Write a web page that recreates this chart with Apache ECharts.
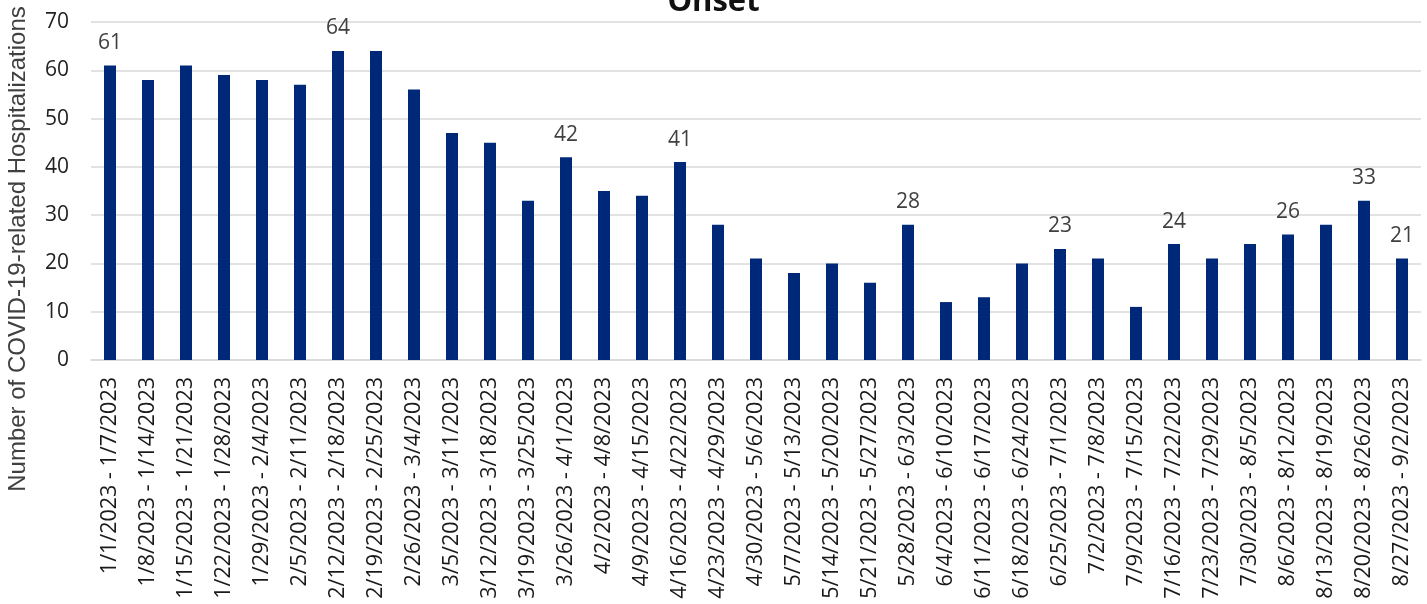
<!DOCTYPE html>
<html>
<head>
<meta charset="utf-8">
<script src="https://cdn.jsdelivr.net/npm/echarts@6/dist/echarts.min.js"></script>
<style>
  html, body { margin: 0; padding: 0; background: #fff; }
  #chart { width: 1427px; height: 604px; }
</style>
</head>
<body>
<div id="chart"></div>
<script>
// 周起止日期
var weeks = [
  '1/1/2023 - 1/7/2023', '1/8/2023 - 1/14/2023', '1/15/2023 - 1/21/2023', '1/22/2023 - 1/28/2023',
  '1/29/2023 - 2/4/2023', '2/5/2023 - 2/11/2023', '2/12/2023 - 2/18/2023', '2/19/2023 - 2/25/2023',
  '2/26/2023 - 3/4/2023', '3/5/2023 - 3/11/2023', '3/12/2023 - 3/18/2023', '3/19/2023 - 3/25/2023',
  '3/26/2023 - 4/1/2023', '4/2/2023 - 4/8/2023', '4/9/2023 - 4/15/2023', '4/16/2023 - 4/22/2023',
  '4/23/2023 - 4/29/2023', '4/30/2023 - 5/6/2023', '5/7/2023 - 5/13/2023', '5/14/2023 - 5/20/2023',
  '5/21/2023 - 5/27/2023', '5/28/2023 - 6/3/2023', '6/4/2023 - 6/10/2023', '6/11/2023 - 6/17/2023',
  '6/18/2023 - 6/24/2023', '6/25/2023 - 7/1/2023', '7/2/2023 - 7/8/2023', '7/9/2023 - 7/15/2023',
  '7/16/2023 - 7/22/2023', '7/23/2023 - 7/29/2023', '7/30/2023 - 8/5/2023', '8/6/2023 - 8/12/2023',
  '8/13/2023 - 8/19/2023', '8/20/2023 - 8/26/2023', '8/27/2023 - 9/2/2023'
]

// 住院人数
var hospitalizations = [
  61, 58, 61, 59, 58, 57, 64, 64, 56, 47, 45, 33, 42, 35, 34, 41, 28, 21,
  18, 20, 16, 28, 12, 13, 20, 23, 21, 11, 24, 21, 24, 26, 28, 33, 21
]

// 显示数值标签的柱子
var labeledIdx = [0, 6, 12, 15, 21, 25, 28, 31, 33, 34]

var yTicks = [0, 10, 20, 30, 40, 50, 60, 70]

var titleText = 'Onset'
var yName = 'Number of COVID-19-related Hospitalizations'

var font = 'Open Sans'

var seriesData = hospitalizations.map(function (v, i) {
  return {
    value: v,
    label: { show: labeledIdx.indexOf(i) > -1 }
  }
})

var myChart = echarts.init(document.getElementById('chart'))
var option = {
  animation: false,
  title: {
    text: titleText,
    left: 'center',
    top: -18,
    textStyle: { fontFamily: font, fontWeight: 'bold', fontSize: 31, color: '#111' }
  },
  grid: { left: 91, right: 6, top: 22, bottom: 244 },
  xAxis: {
    type: 'category',
    data: weeks,
    axisTick: { show: false },
    axisLine: { show: true, lineStyle: { color: '#d9d9d9', width: 1.5 } },
    axisLabel: {
      interval: 0,
      rotate: 90,
      margin: 17,
      fontFamily: font,
      fontSize: 21.5,
      color: '#1a1a1a'
    }
  },
  yAxis: {
    type: 'value',
    min: yTicks[0],
    max: yTicks[yTicks.length - 1],
    interval: 10,
    axisLine: { show: false },
    axisTick: { show: false },
    axisLabel: { fontFamily: font, fontSize: 21, color: '#222', margin: 22 },
    splitLine: { lineStyle: { color: '#d9d9d9', width: 1.5 } }
  },
  graphic: [{
    type: 'text',
    x: 18,
    y: 249,
    rotation: Math.PI / 2,
    style: {
      text: yName,
      fontFamily: 'Liberation Sans',
      fontSize: 24,
      fill: '#404040',
      align: 'center',
      verticalAlign: 'middle'
    }
  }],
  series: [{
    type: 'bar',
    data: seriesData,
    barWidth: 12,
    itemStyle: { color: '#002878' },
    label: {
      position: 'top',
      distance: 12,
      fontFamily: font,
      fontSize: 21,
      color: '#404040'
    }
  }]
}
myChart.setOption(option)
</script>
</body>
</html>
